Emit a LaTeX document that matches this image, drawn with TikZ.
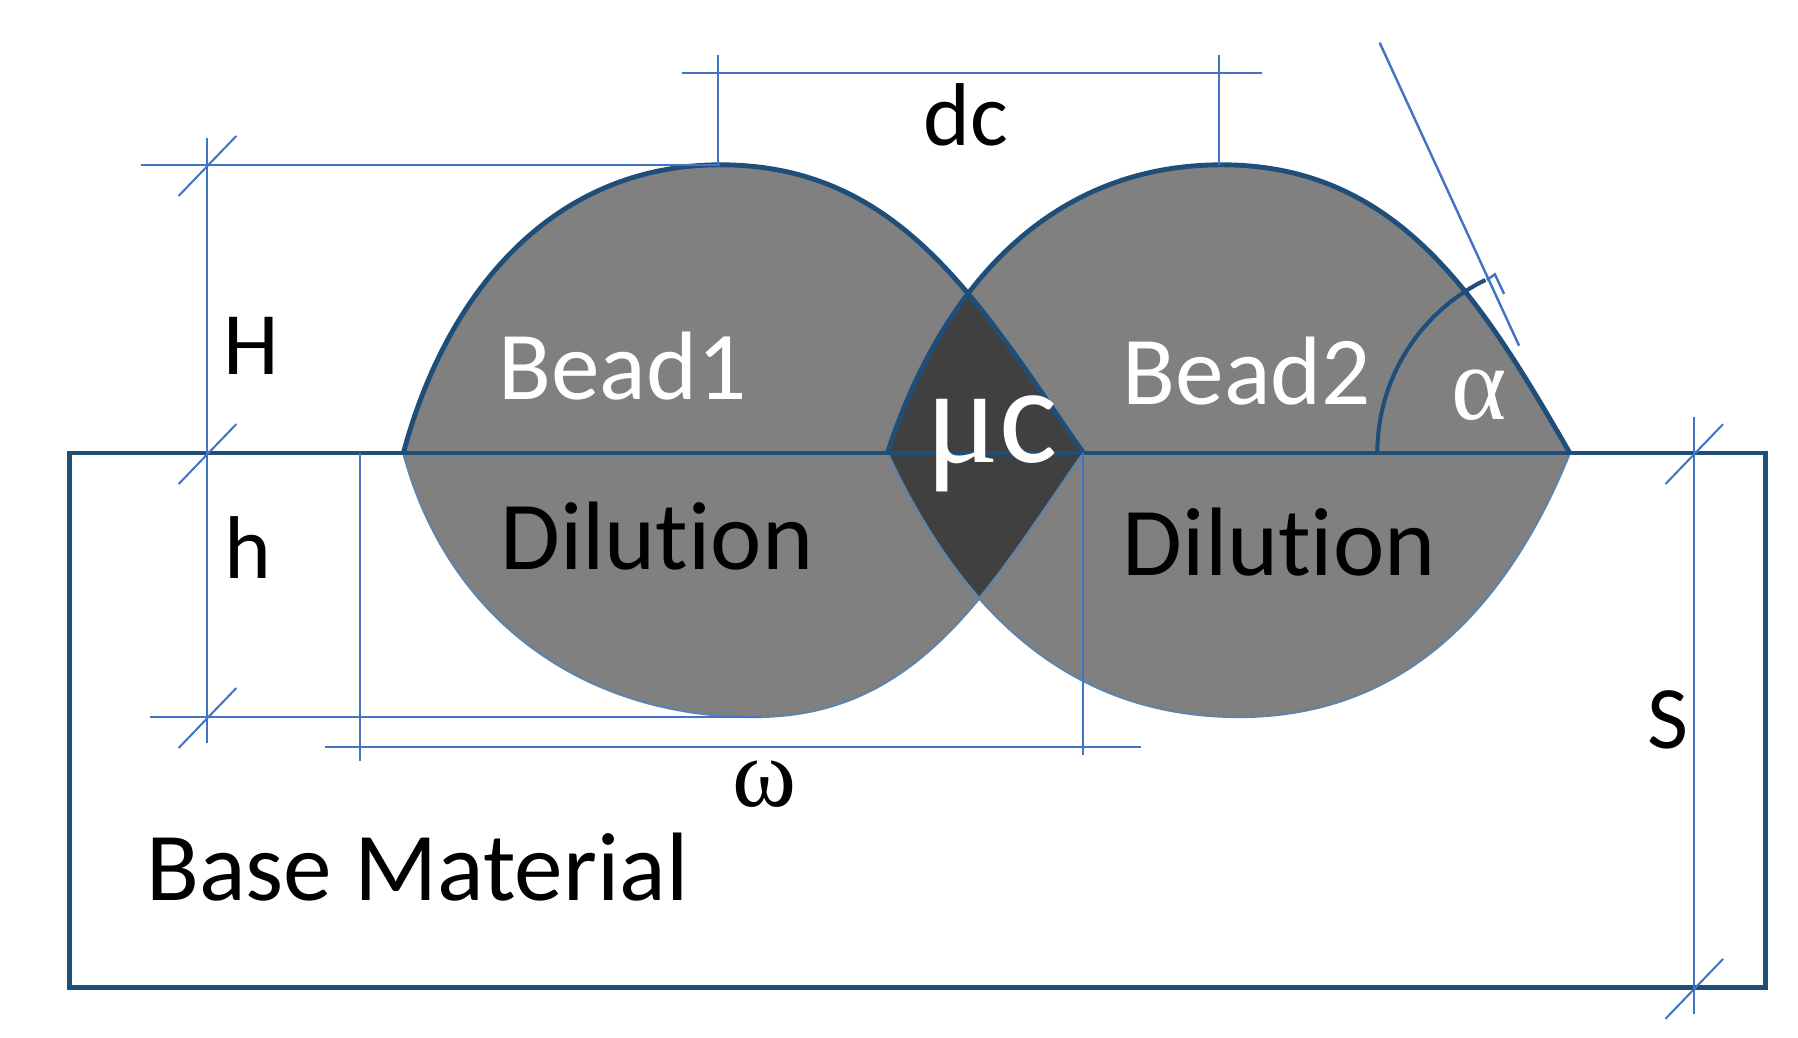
\documentclass[tikz,border=0pt]{standalone}
\usepackage{fontspec}
\setmainfont{Carlito}[Ligatures={NoCommon}]
\newfontfamily\serifsym{Liberation Serif}
\usetikzlibrary{calc}
\definecolor{edgeblue}{HTML}{1F4E79}
\definecolor{dimblue}{HTML}{4472C4}
\definecolor{beadgray}{HTML}{808080}
\definecolor{overlapgray}{HTML}{404040}
\tikzset{
  dim/.style={draw=dimblue, line width=0.5pt},
  tick/.style={draw=dimblue, line width=0.5pt},
  label/.style={font=\fontsize{22}{26}\selectfont, inner sep=0pt},
  beadlabel/.style={font=\fontsize{24}{28}\selectfont, text=white, inner sep=0pt},
}
\newcommand{\dimtick}[1]{\draw[tick] ($(#1)+(-25,-27)$) -- ($(#1)+(25,25)$);}
\begin{document}
\begin{tikzpicture}[x=0.01cm, y=0.01cm]
\useasboundingbox (0,0) rectangle (1560,900);
% ── Bead outlines ──
\def\beadA{(350,507) to[out=75,in=180] (625,757) to[out=0,in=125] (940,507) to[out=-125,in=0] (655,278) to[out=180,in=-75] cycle}
\def\beadB{(770,507) to[out=72,in=180] (1060,757) to[out=0,in=120] (1362,507) to[out=-112,in=0] (1075,278) to[out=180,in=-65] cycle}
\fill[beadgray] \beadA;
\fill[beadgray] \beadB;
\begin{scope}
  \clip \beadA;
  \fill[overlapgray] \beadB;
\end{scope}
% lower arcs (thin)
\draw[edgeblue!70, line width=0.6pt] (940,507) to[out=-125,in=0] (655,278) to[out=180,in=-75] (350,507);
\draw[edgeblue!70, line width=0.6pt] (1362,507) to[out=-112,in=0] (1075,278) to[out=180,in=-65] (770,507);
% upper arcs (thick)
\draw[edgeblue, line width=1.2pt] (350,507) to[out=75,in=180] (625,757) to[out=0,in=125] (940,507);
\draw[edgeblue, line width=1.2pt] (770,507) to[out=72,in=180] (1060,757) to[out=0,in=120] (1362,507);
% ── Base material ──
\draw[edgeblue, line width=1.2pt] (60,43) rectangle (1532,507);
% ── dc ──
\draw[dim] (592,837) -- (1095,837);
\draw[dim] (623,852) -- (623,757);
\draw[dim] (1058,852) -- (1058,757);
\node[label] (dc) at (838,800) {dc};
% ── H and h ──
\draw[dim] (122,757) -- (625,757);
\draw[dim] (130,278) -- (660,278);
\draw[dim] (180,780) -- (180,255);
\coordinate (Htop) at (180,757);
\coordinate (Hmid) at (180,507);
\coordinate (Hbot) at (180,278);
\dimtick{Htop}
\dimtick{Hmid}
\dimtick{Hbot}
\node[label] (H) at (218,600) {H};
\node[label] (hh) at (215,425) {h};
% ── omega ──
\draw[dim] (282,252) -- (990,252);
\draw[dim] (312,507) -- (312,240);
\draw[dim] (940,507) -- (940,245);
\node[label, font=\serifsym\fontsize{24}{28}\selectfont] (omega) at (663,220) {ω};
% ── S ──
\draw[dim] (1470,538) -- (1470,20);
\coordinate (Stop) at (1470,507);
\coordinate (Sbot) at (1470,43);
\dimtick{Stop}
\dimtick{Sbot}
\node[label] (S) at (1447,275) {S};
% ── alpha ──
\draw[dimblue, line width=0.6pt] (1197,863) -- (1318,600);
\draw[dimblue, line width=0.6pt] (1290,657) -- (1297,662) -- (1305,645);
\draw[edgeblue, line width=1pt] (1195,507) arc[start angle=180, end angle=116, radius=167];
\node[beadlabel, font=\serifsym\fontsize{26}{30}\selectfont] (alpha) at (1283,557) {α};
% ── Labels ──
\node[beadlabel] (bead1) at (540,582) {Bead1};
\node[beadlabel] (bead2) at (1082,578) {Bead2};
\node[beadlabel, font=\fontsize{34}{38}\selectfont] (muc) at (860,515) {{\serifsym μ}c};
\node[label, font=\fontsize{24}{28}\selectfont] (dil1) at (570,435) {Dilution};
\node[label, font=\fontsize{24}{28}\selectfont] (dil2) at (1110,430) {Dilution};
\node[label, font=\fontsize{24}{28}\selectfont] (base) at (362,148) {Base Material};
\end{tikzpicture}
\end{document}
